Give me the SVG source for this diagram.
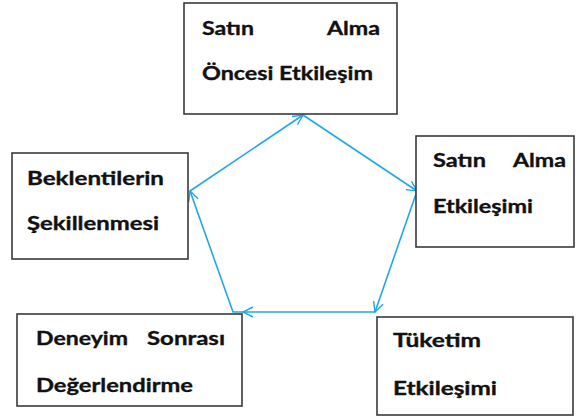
<svg xmlns="http://www.w3.org/2000/svg" width="577" height="418" viewBox="0 0 577 418">
  <style>
    .box { fill: #ffffff; stroke: #3a3a3a; stroke-width: 1.6; }
    .lbl { font-family: Lato, "Liberation Sans", sans-serif; font-weight: bold; font-size: 19.5px; fill: #111111; stroke: #111111; stroke-width: 0.35; }
    .link { fill: none; stroke: #22a6e6; stroke-width: 1.6; marker-end: url(#arrow); }
  </style>
  <defs>
    <marker id="arrow" viewBox="0 0 12 12" refX="11" refY="6" markerWidth="12" markerHeight="12" markerUnits="userSpaceOnUse" orient="auto">
      <path d="M1,1 L11,6 L1,11" fill="none" stroke="#22a6e6" stroke-width="1.4"/>
    </marker>
  </defs>
  <rect width="577" height="418" fill="#ffffff"/>

  <g id="connectors">
    <path class="link" d="M190,191 L303,115"/>
    <path class="link" d="M303,115 L417,191"/>
    <path class="link" d="M417,191 L375,312"/>
    <path class="link" d="M375,312 L243,312"/>
    <path class="link" d="M243,312 L233,312 L190,191"/>
  </g>

  <g id="satin-alma-oncesi">
    <rect class="box" x="184" y="3" width="213" height="111"/>
    <text class="lbl" x="202" y="35" textLength="52" lengthAdjust="spacingAndGlyphs">Satın</text>
    <text class="lbl" x="327" y="35" textLength="53" lengthAdjust="spacingAndGlyphs">Alma</text>
    <text class="lbl" x="202" y="80" textLength="171" lengthAdjust="spacingAndGlyphs">Öncesi Etkileşim</text>
  </g>

  <g id="beklentiler">
    <rect class="box" x="12" y="153" width="176" height="106"/>
    <text class="lbl" x="27" y="185" textLength="137" lengthAdjust="spacingAndGlyphs">Beklentilerin</text>
    <text class="lbl" x="27" y="230" textLength="132" lengthAdjust="spacingAndGlyphs">Şekillenmesi</text>
  </g>

  <g id="satin-alma">
    <rect class="box" x="416" y="136" width="158" height="111"/>
    <text class="lbl" x="433" y="167" textLength="53" lengthAdjust="spacingAndGlyphs">Satın</text>
    <text class="lbl" x="513" y="167" textLength="53" lengthAdjust="spacingAndGlyphs">Alma</text>
    <text class="lbl" x="433" y="213" textLength="100" lengthAdjust="spacingAndGlyphs">Etkileşimi</text>
  </g>

  <g id="deneyim-sonrasi">
    <rect class="box" x="17" y="314" width="225" height="92"/>
    <text class="lbl" x="36" y="345" textLength="92" lengthAdjust="spacingAndGlyphs">Deneyim</text>
    <text class="lbl" x="147" y="345" textLength="78" lengthAdjust="spacingAndGlyphs">Sonrası</text>
    <text class="lbl" x="36" y="392" textLength="157" lengthAdjust="spacingAndGlyphs">Değerlendirme</text>
  </g>

  <g id="tuketim">
    <rect class="box" x="377" y="317" width="196" height="98"/>
    <text class="lbl" x="393" y="347" textLength="88" lengthAdjust="spacingAndGlyphs">Tüketim</text>
    <text class="lbl" x="393" y="395" textLength="104" lengthAdjust="spacingAndGlyphs">Etkileşimi</text>
  </g>
</svg>
